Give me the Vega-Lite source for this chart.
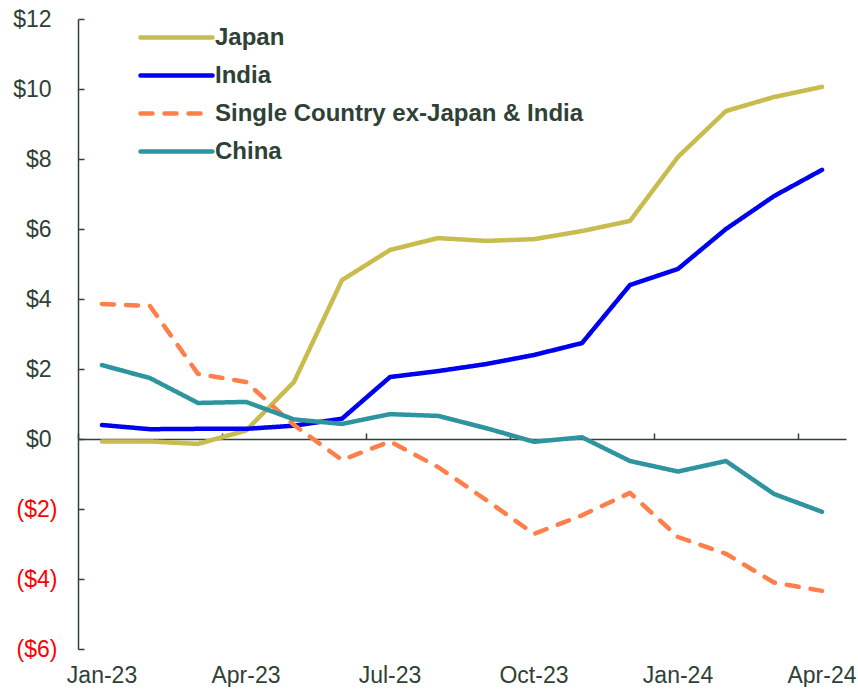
{
  "$schema": "https://vega.github.io/schema/vega-lite/v6.json",
  "width": 768,
  "height": 630,
  "padding": {"left": 12, "top": 8, "right": 0, "bottom": 0},
  "background": "white",
  "config": {
    "view": {"stroke": null},
    "font": "Liberation Sans",
    "axis": {"labelFont": "Liberation Sans", "labelFontSize": 23, "labelColor": "#2F4135", "domainColor": "#2F4135", "tickColor": "#2F4135", "domainWidth": 1.5, "tickWidth": 1.5, "grid": false, "title": null}
  },
  "data": {
    "values": [
      {"month": "Jan-23", "series": "Japan", "value": -0.07},
      {"month": "Feb-23", "series": "Japan", "value": -0.07},
      {"month": "Mar-23", "series": "Japan", "value": -0.14},
      {"month": "Apr-23", "series": "Japan", "value": 0.24},
      {"month": "May-23", "series": "Japan", "value": 1.63},
      {"month": "Jun-23", "series": "Japan", "value": 4.54},
      {"month": "Jul-23", "series": "Japan", "value": 5.4},
      {"month": "Aug-23", "series": "Japan", "value": 5.74},
      {"month": "Sep-23", "series": "Japan", "value": 5.66},
      {"month": "Oct-23", "series": "Japan", "value": 5.71},
      {"month": "Nov-23", "series": "Japan", "value": 5.94},
      {"month": "Dec-23", "series": "Japan", "value": 6.23},
      {"month": "Jan-24", "series": "Japan", "value": 8.06},
      {"month": "Feb-24", "series": "Japan", "value": 9.37},
      {"month": "Mar-24", "series": "Japan", "value": 9.77},
      {"month": "Apr-24", "series": "Japan", "value": 10.06},
      {"month": "Jan-23", "series": "India", "value": 0.4},
      {"month": "Feb-23", "series": "India", "value": 0.28},
      {"month": "Mar-23", "series": "India", "value": 0.29},
      {"month": "Apr-23", "series": "India", "value": 0.29},
      {"month": "May-23", "series": "India", "value": 0.38},
      {"month": "Jun-23", "series": "India", "value": 0.58},
      {"month": "Jul-23", "series": "India", "value": 1.77},
      {"month": "Aug-23", "series": "India", "value": 1.94},
      {"month": "Sep-23", "series": "India", "value": 2.14},
      {"month": "Oct-23", "series": "India", "value": 2.4},
      {"month": "Nov-23", "series": "India", "value": 2.74},
      {"month": "Dec-23", "series": "India", "value": 4.4},
      {"month": "Jan-24", "series": "India", "value": 4.86},
      {"month": "Feb-24", "series": "India", "value": 6.0},
      {"month": "Mar-24", "series": "India", "value": 6.94},
      {"month": "Apr-24", "series": "India", "value": 7.69},
      {"month": "Jan-23", "series": "Single Country ex-Japan & India", "value": 3.86},
      {"month": "Feb-23", "series": "Single Country ex-Japan & India", "value": 3.8},
      {"month": "Mar-23", "series": "Single Country ex-Japan & India", "value": 1.86},
      {"month": "Apr-23", "series": "Single Country ex-Japan & India", "value": 1.63},
      {"month": "May-23", "series": "Single Country ex-Japan & India", "value": 0.4},
      {"month": "Jun-23", "series": "Single Country ex-Japan & India", "value": -0.6},
      {"month": "Jul-23", "series": "Single Country ex-Japan & India", "value": -0.07},
      {"month": "Aug-23", "series": "Single Country ex-Japan & India", "value": -0.8},
      {"month": "Sep-23", "series": "Single Country ex-Japan & India", "value": -1.74},
      {"month": "Oct-23", "series": "Single Country ex-Japan & India", "value": -2.71},
      {"month": "Nov-23", "series": "Single Country ex-Japan & India", "value": -2.18},
      {"month": "Dec-23", "series": "Single Country ex-Japan & India", "value": -1.54},
      {"month": "Jan-24", "series": "Single Country ex-Japan & India", "value": -2.8},
      {"month": "Feb-24", "series": "Single Country ex-Japan & India", "value": -3.28},
      {"month": "Mar-24", "series": "Single Country ex-Japan & India", "value": -4.1},
      {"month": "Apr-24", "series": "Single Country ex-Japan & India", "value": -4.34},
      {"month": "Jan-23", "series": "China", "value": 2.11},
      {"month": "Feb-23", "series": "China", "value": 1.74},
      {"month": "Mar-23", "series": "China", "value": 1.03},
      {"month": "Apr-23", "series": "China", "value": 1.06},
      {"month": "May-23", "series": "China", "value": 0.56},
      {"month": "Jun-23", "series": "China", "value": 0.43},
      {"month": "Jul-23", "series": "China", "value": 0.71},
      {"month": "Aug-23", "series": "China", "value": 0.66},
      {"month": "Sep-23", "series": "China", "value": 0.31},
      {"month": "Oct-23", "series": "China", "value": -0.08},
      {"month": "Nov-23", "series": "China", "value": 0.05},
      {"month": "Dec-23", "series": "China", "value": -0.63},
      {"month": "Jan-24", "series": "China", "value": -0.93},
      {"month": "Feb-24", "series": "China", "value": -0.63},
      {"month": "Mar-24", "series": "China", "value": -1.57},
      {"month": "Apr-24", "series": "China", "value": -2.08}
    ]
  },
  "resolve": {"axis": {"x": "independent"}},
  "layer": [
    {
      "mark": {"type": "point", "opacity": 0},
      "encoding": {
        "x": {
          "field": "month", "type": "ordinal",
          "scale": {"type": "band", "paddingInner": 0, "paddingOuter": 0, "domain": ["Jan-23","Feb-23","Mar-23","Apr-23","May-23","Jun-23","Jul-23","Aug-23","Sep-23","Oct-23","Nov-23","Dec-23","Jan-24","Feb-24","Mar-24","Apr-24"]},
          "axis": {"orient": "top", "offset": -420, "bandPosition": 0, "values": ["Jan-23","Apr-23","Jul-23","Oct-23","Jan-24","Apr-24"], "labels": false, "ticks": true, "tickSize": 6, "domain": true}
        },
        "y": {"field": "value", "type": "quantitative"}
      }
    },
    {
      "mark": {"type": "line", "strokeWidth": 4.5, "strokeCap": "round", "strokeJoin": "round"},
      "encoding": {
        "x": {
          "field": "month", "type": "ordinal", "bandPosition": 0.5,
          "axis": {"orient": "bottom", "values": ["Jan-23","Apr-23","Jul-23","Oct-23","Jan-24","Apr-24"], "labelAngle": 0, "ticks": false, "domain": false, "labelPadding": 15}
        },
        "y": {
          "field": "value", "type": "quantitative",
          "scale": {"domain": [-6, 12], "nice": false, "zero": false},
          "axis": {"values": [-6,-4,-2,0,2,4,6,8,10,12], "tickSize": -6,
            "labelPadding": {"condition": {"test": "datum.value >= 0", "value": 33}, "value": 27},
            "labelExpr": "datum.value < 0 ? '($' + (-datum.value) + ')' : '$' + datum.value",
            "labelColor": {"condition": {"test": "datum.value < 0", "value": "#FF0000"}, "value": "#2F4135"}}
        },
        "color": {
          "field": "series", "type": "nominal",
          "scale": {"domain": ["Japan", "India", "Single Country ex-Japan & India", "China"], "range": ["#C8BC4F", "#0000F0", "#FF7F4A", "#2E94A0"]},
          "legend": {
            "title": null, "orient": "none", "legendX": 84, "legendY": 4, "padding": 0,
            "symbolType": "M-3,0H3", "symbolSize": 576, "symbolStrokeWidth": 4.5,
            "labelFont": "Liberation Sans", "labelFontWeight": "bold", "labelFontSize": 24, "labelColor": "#2F4135",
            "labelOffset": 24, "rowPadding": 11, "labelLimit": 600,
            "encode": {"symbols": {"update": {"strokeCap": {"value": "round"}}}}
          }
        },
        "strokeDash": {
          "field": "series", "type": "nominal",
          "scale": {"domain": ["Japan", "India", "Single Country ex-Japan & India", "China"], "range": [[1, 0], [1, 0], [12, 12], [1, 0]]},
          "legend": null
        }
      }
    }
  ]
}
